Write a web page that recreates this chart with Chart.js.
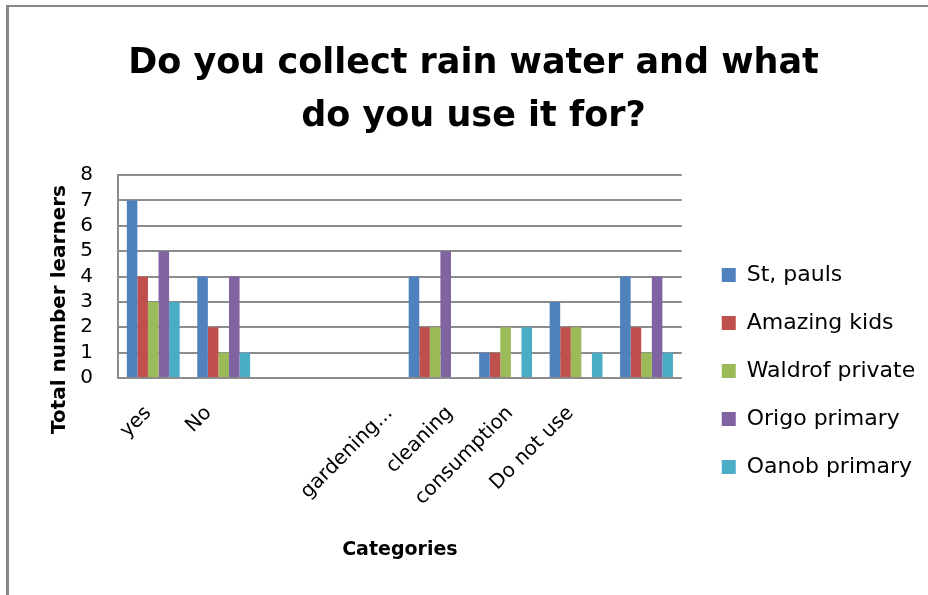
<!DOCTYPE html>
<html>
<head>
<meta charset="utf-8">
<title>Rain water collection</title>
<script src="https://cdn.jsdelivr.net/npm/chart.js@4.4.1/dist/chart.umd.min.js"></script>
<style>
  html, body { margin: 0; padding: 0; background: #fff; }
  #frame {
    position: absolute; left: 6px; top: 5px;
    width: 919px; height: 588px;
    border-top: 2px solid #878787;
    border-left: 3px solid #878787;
  }
  #frame canvas { display: block; }
</style>
</head>
<body>
<div id="frame"><canvas id="chart" width="919" height="588"></canvas></div>
<script>
/* ─── Data ───────────────────────────────────────────────────────────────── */
const CATEGORIES = ['yes', 'No', '', '', 'gardening...', 'cleaning', 'consumption', 'Do not use'];
const SCHOOLS    = ['St, pauls', 'Amazing kids', 'Waldrof private', 'Origo primary', 'Oanob primary'];
const COLORS     = ['#4F81BD', '#C0504D', '#9BBB59', '#8064A2', '#4BACC6'];

const ST_PAULS     = [7, 4, null, null, 4, 1, 3, 4];
const AMAZING_KIDS = [4, 2, null, null, 2, 1, 2, 2];
const WALDROF      = [3, 1, null, null, 2, 2, 2, 1];
const ORIGO        = [5, 4, null, null, 5, 0, 0, 4];
const OANOB        = [3, 1, null, null, 0, 2, 1, 1];

const Y_TICKS = [0, 1, 2, 3, 4, 5, 6, 7, 8];

const TITLE   = ['Do you collect rain water and what', 'do you use it for?'];
const Y_LABEL = 'Total number learners';
const X_LABEL = 'Categories';

/* ─── Setup ──────────────────────────────────────────────────────────────── */
const FONT = '"DejaVu Sans", sans-serif';
Chart.defaults.font.family = FONT;
Chart.defaults.color = '#000';

const GRID = '#8c8c8c';
const LABEL_SPREAD = 0.856;   // category labels sit a bit tighter than the bar groups

// rotated y-axis caption, drawn a little below the plot's middle
const yTitle = {
  id: 'yTitle',
  afterDraw(chart) {
    const { ctx, chartArea } = chart;
    ctx.save();
    ctx.translate(51, (chartArea.top + chartArea.bottom) / 2 + 33);
    ctx.rotate(-Math.PI / 2);
    ctx.font = `bold 20px ${FONT}`;
    ctx.fillStyle = '#000';
    ctx.textAlign = 'center';
    ctx.textBaseline = 'middle';
    ctx.fillText(Y_LABEL, 0, 0);
    ctx.restore();
  }
};

// 45° category labels under the x axis
const xLabels = {
  id: 'xLabels',
  afterDraw(chart) {
    const { ctx } = chart;
    const x = chart.scales.x;
    ctx.save();
    ctx.font = `20px ${FONT}`;
    ctx.fillStyle = '#000';
    ctx.textAlign = 'right';
    ctx.textBaseline = 'middle';
    chart.data.labels.forEach((label, i) => {
      if (!label) return;
      const px = x.left + (x.getPixelForTick(i) - x.left) * LABEL_SPREAD;
      ctx.save();
      ctx.translate(px, x.top + 32);
      ctx.rotate(-Math.PI / 4);
      ctx.fillText(label, 0, 0);
      ctx.restore();
    });
    ctx.restore();
  }
};

// push the legend column down and out from the plot, re-centre the title
const layoutNudge = {
  id: 'layoutNudge',
  afterLayout(chart) {
    const l = chart.legend;
    l.left += 14;  l.right += 14;
    l.top  += 70;  l.bottom += 70;
    const t = chart.titleBlock;
    t.left += 16;  t.right += 16;
  }
};

const series = [ST_PAULS, AMAZING_KIDS, WALDROF, ORIGO, OANOB];

new Chart(document.getElementById('chart'), {
  type: 'bar',
  data: {
    labels: CATEGORIES,
    datasets: series.map((data, i) => ({
      label:              SCHOOLS[i],
      data,
      backgroundColor:    COLORS[i],
      borderWidth:        0,
      barPercentage:      1,
      categoryPercentage: 0.75
    }))
  },
  plugins: [yTitle, xLabels, layoutNudge],
  options: {
    responsive: false,
    animation: false,
    layout: { padding: { left: 0, right: 22, top: 0, bottom: 0 } },
    plugins: {
      title: {
        display: true,
        text: TITLE,
        color: '#000',
        font: { size: 35, weight: 'bold', lineHeight: 1.5 },
        padding: { top: 31, bottom: 32 }
      },
      legend: {
        position: 'right',
        labels: {
          boxWidth:  14,
          boxHeight: 14,
          padding:   26,
          color:     '#000',
          font:      { size: 22 }
        }
      },
      tooltip: { enabled: false }
    },
    scales: {
      x: {
        grid:   { display: false },
        border: { display: false },
        ticks:  { display: false },
        title: {
          display: true,
          text:    X_LABEL,
          color:   '#000',
          font:    { size: 19, weight: 'bold' },
          padding: { top: 0, bottom: 34 }
        },
        afterFit: s => { s.height = 217; }
      },
      y: {
        min: 0,
        max: 8,
        afterBuildTicks: s => { s.ticks = Y_TICKS.map(v => ({ value: v })); },
        ticks:  { autoSkip: false, color: '#000', font: { size: 20 }, padding: 25 },
        grid:   { color: GRID, lineWidth: 2, drawTicks: false },
        border: { display: true, color: GRID, width: 2 },
        afterFit: s => { s.width = 109; }
      }
    }
  }
});
</script>
</body>
</html>
